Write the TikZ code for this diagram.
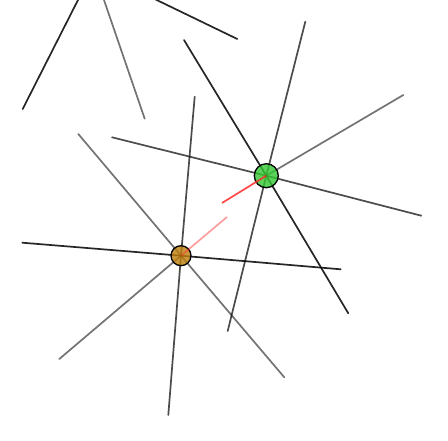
\documentclass[tikz,border=0pt]{standalone}
\begin{document}
\begin{tikzpicture}[x=1pt,y=-1pt,
  dark/.style={draw=black, draw opacity=0.85, line width=1.7pt, line cap=round},
  light/.style={draw=black, draw opacity=0.55, line width=1.7pt, line cap=round},
  mid/.style={draw=black, draw opacity=0.7, line width=1.7pt, line cap=round},
  gnode/.style={circle, draw=black, line width=1.3pt, fill={rgb,255:red,50;green,200;blue,50}, fill opacity=0.8, minimum size=24pt, inner sep=0pt},
  onode/.style={circle, draw=black, line width=1.3pt, fill={rgb,255:red,190;green,125;blue,10}, fill opacity=0.8, minimum size=20pt, inner sep=0pt},
  redA/.style={draw={rgb,255:red,255;green,40;blue,40}, draw opacity=0.85, line width=1.7pt},
  redB/.style={draw={rgb,255:red,255;green,40;blue,40}, draw opacity=0.45, line width=1.7pt}]
\useasboundingbox (0,0) rectangle (448,440);
\clip (0,0) rectangle (448,440);
% centres
\coordinate (h) at (93.5,-30.6);
\coordinate (g) at (266.3,175.7);
\coordinate (o) at (181,255.7);
% ends of the green node's lines
\coordinate (g1a) at (184,40);
\coordinate (g1b) at (348.3,313.3);
\coordinate (g2a) at (305.3,21.7);
\coordinate (g2b) at (227.7,331);
\coordinate (g3) at (403.3,95);
\coordinate (g4a) at (112,137.3);
\coordinate (g4b) at (421.3,215.7);
% ends of the orange node's lines
\coordinate (o1a) at (22.3,242.7);
\coordinate (o1b) at (340.7,269.3);
\coordinate (o2a) at (78.3,134);
\coordinate (o2b) at (284.3,377.3);
\coordinate (o3a) at (194.7,96.7);
\coordinate (o3b) at (168.3,415);
\coordinate (o4) at (59.3,359);
% ends of the hidden node's lines
\coordinate (h1) at (22.7,109);
\coordinate (h2) at (144.7,118.7);
\coordinate (h3) at (237.3,39);
% red ends
\coordinate (r1) at (222,203);
\coordinate (r2) at (227,217);
% hidden node rays
\draw[dark] (h) -- (h1);
\draw[light] (h) -- (h2);
\draw[dark] (h) -- (h3);
% green node lines
\draw[dark] (g1a) -- (g) -- (g1b);
\draw[mid] (g2a) -- (g) -- (g2b);
\draw[light] (g) -- (g3);
\draw[mid] (g4a) -- (g) -- (g4b);
% orange node lines
\draw[dark] (o1a) -- (o) -- (o1b);
\draw[light] (o2a) -- (o) -- (o2b);
\draw[mid] (o3a) -- (o) -- (o3b);
\draw[light] (o) -- (o4);
% nodes
\node[gnode] (gn) at (g) {};
\node[onode] (on) at (o) {};
% red segments
\draw[redA] (gn.center) -- (r1);
\draw[redB] (on.center) -- (r2);
\end{tikzpicture}
\end{document}
